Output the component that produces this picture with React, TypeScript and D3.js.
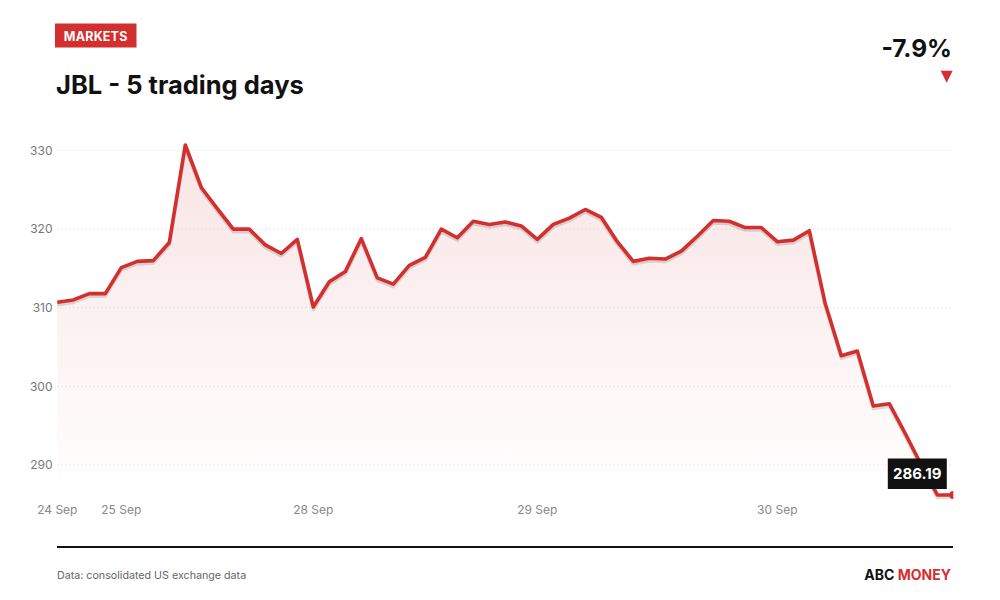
import * as d3 from "d3";
import { useEffect, useRef } from "react";

// JBL price, one point per trading interval
const prices = [
	310.7, 311.0, 311.8, 311.8, 315.1, 315.9, 316.0, 318.3, 330.7, 325.3,
	322.6, 320.0, 320.0, 318.0, 316.9, 318.7, 310.1, 313.3, 314.6, 318.8,
	313.8, 313.0, 315.4, 316.4, 320.0, 318.9, 321.0, 320.6, 320.9, 320.4,
	318.7, 320.6, 321.4, 322.5, 321.5, 318.4, 315.9, 316.3, 316.2, 317.2,
	319.1, 321.1, 321.0, 320.2, 320.2, 318.4, 318.6, 319.8, 310.5, 303.9,
	304.5, 297.5, 297.8, 294.0, 290.0, 286.2, 286.19,
];
const dayTickIndex = [0, 4, 16, 30, 45];
const dayTickLabels = ["24 Sep", "25 Sep", "28 Sep", "29 Sep", "30 Sep"];
const yTicks = [290, 300, 310, 320, 330];
const changeLabel = "-7.9%";
const lastLabel = "286.19";

const RED = "#d32f2f";
const FONT = "Inter, 'Noto Sans', sans-serif";

const PriceChart = () => {
	const svgRef = useRef<SVGSVGElement>(null);

	useEffect(() => {
		if (!svgRef.current) return;
		const width = 1000;
		const height = 600;
		const plot = { left: 57.3, right: 953.3, top: 145, bottom: 495 };

		const svg = d3.select(svgRef.current).attr("width", width).attr("height", height);
		svg.selectAll("*").remove();

		const x = d3.scaleLinear().domain([0, prices.length - 1]).range([plot.left, plot.right]);
		const y = d3
			.scaleLinear()
			.domain(d3.extent(prices) as [number, number])
			.range([plot.bottom, plot.top]);

		const defs = svg.append("defs");
		const grad = defs
			.append("linearGradient")
			.attr("id", "areaFill")
			.attr("gradientUnits", "userSpaceOnUse")
			.attr("x1", 0)
			.attr("x2", 0)
			.attr("y1", plot.top)
			.attr("y2", plot.bottom);
		grad.append("stop").attr("offset", "0%").attr("stop-color", RED).attr("stop-opacity", 0.13);
		grad.append("stop").attr("offset", "100%").attr("stop-color", RED).attr("stop-opacity", 0.0);

		defs
			.append("clipPath")
			.attr("id", "plotClip")
			.append("rect")
			.attr("x", plot.left - 5)
			.attr("y", plot.top - 10)
			.attr("width", plot.right - plot.left + 5)
			.attr("height", plot.bottom - plot.top + 20);

		// header
		svg.append("rect").attr("x", 55).attr("y", 23.5).attr("width", 81.5).attr("height", 24).attr("fill", RED);
		svg
			.append("text")
			.attr("x", 95.7)
			.attr("y", 40.5)
			.attr("text-anchor", "middle")
			.attr("fill", "#fff")
			.style("font", `700 12.5px ${FONT}`)
			.style("letter-spacing", "0.2px")
			.text("MARKETS");
		svg
			.append("text")
			.attr("x", 56)
			.attr("y", 94.3)
			.attr("fill", "#111")
			.style("font", `700 25.5px ${FONT}`)
			.text("JBL - 5 trading days");
		svg
			.append("text")
			.attr("x", 952)
			.attr("y", 56.7)
			.attr("text-anchor", "end")
			.attr("fill", "#111")
			.style("font", `700 24.5px ${FONT}`)
			.text(changeLabel);
		svg
			.append("path")
			.attr("d", "M940.7,70.7 L952.7,70.7 L946.7,82.7 Z")
			.attr("fill", RED);

		// gridlines + y labels
		const grid = svg.append("g");
		yTicks.forEach((t) => {
			grid
				.append("line")
				.attr("x1", plot.left)
				.attr("x2", plot.right - 1)
				.attr("y1", y(t))
				.attr("y2", y(t))
				.attr("stroke", "#d9d9d9")
				.attr("stroke-width", 1)
				.attr("stroke-dasharray", "1,3");
			grid
				.append("text")
				.attr("x", 52.5)
				.attr("y", y(t))
				.attr("dy", "0.35em")
				.attr("text-anchor", "end")
				.attr("fill", "#777")
				.style("font", `400 12px ${FONT}`)
				.text(t);
		});

		// x labels
		dayTickIndex.forEach((idx, i) => {
			svg
				.append("text")
				.attr("x", x(idx))
				.attr("y", 513.5)
				.attr("text-anchor", "middle")
				.attr("fill", "#888")
				.style("font", `400 12px ${FONT}`)
				.text(dayTickLabels[i]);
		});

		const g = svg.append("g").attr("clip-path", "url(#plotClip)");

		const area = d3
			.area<number>()
			.x((_, i) => x(i))
			.y0(plot.bottom)
			.y1((d) => y(d));
		g.append("path").attr("d", area(prices)).attr("fill", "url(#areaFill)");

		const line = d3
			.line<number>()
			.x((_, i) => x(i))
			.y((d) => y(d));
		g.append("path")
			.attr("d", line(prices))
			.attr("transform", "translate(0,2.5)")
			.attr("fill", "none")
			.attr("stroke", "rgba(0,0,0,0.13)")
			.attr("stroke-width", 3.6)
			.attr("stroke-linejoin", "round");
		g.append("path")
			.attr("d", line(prices))
			.attr("fill", "none")
			.attr("stroke", RED)
			.attr("stroke-width", 3.6)
			.attr("stroke-linejoin", "round");

		const last = prices.length - 1;
		g.append("circle").attr("cx", x(last)).attr("cy", y(prices[last])).attr("r", 4).attr("fill", RED);

		// last value tag
		const tagW = 59;
		const tagH = 30.5;
		const tx = x(last) - 6.5 - tagW;
		const ty = y(prices[last]) - 6 - tagH;
		svg.append("rect").attr("x", tx).attr("y", ty).attr("width", tagW).attr("height", tagH).attr("fill", "#111");
		svg
			.append("text")
			.attr("x", tx + tagW / 2)
			.attr("y", ty + tagH / 2)
			.attr("dy", "0.36em")
			.attr("text-anchor", "middle")
			.attr("fill", "#fff")
			.style("font", `700 15px ${FONT}`)
			.text(lastLabel);

		// footer
		svg.append("line").attr("x1", 57).attr("x2", 953).attr("y1", 547).attr("y2", 547).attr("stroke", "#111").attr("stroke-width", 2);
		svg
			.append("text")
			.attr("x", 57)
			.attr("y", 579)
			.attr("fill", "#666")
			.style("font", `400 10.7px ${FONT}`)
			.text("Data: consolidated US exchange data");
		const brand = svg
			.append("text")
			.attr("x", 951)
			.attr("y", 580)
			.attr("text-anchor", "end")
			.style("font", `700 14px ${FONT}`);
		brand.append("tspan").attr("fill", "#111").text("ABC ");
		brand.append("tspan").attr("fill", RED).text("MONEY");
	}, []);

	return <svg ref={svgRef} style={{ position: "absolute", left: 0, top: 0, background: "#fff" }}></svg>;
};

export default function App() {
	return <PriceChart />;
}
